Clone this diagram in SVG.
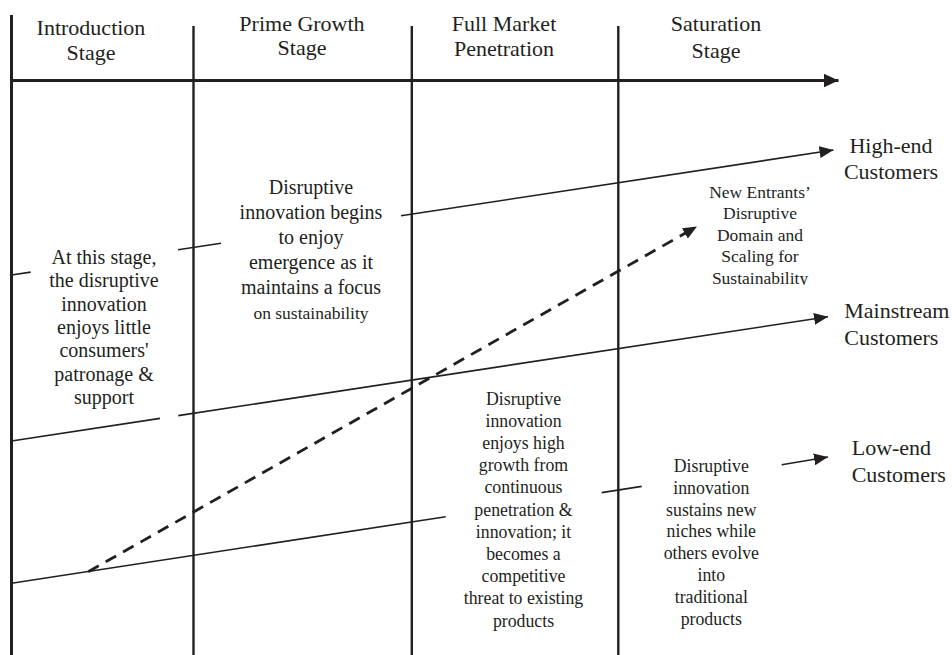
<svg xmlns="http://www.w3.org/2000/svg" width="952" height="655" viewBox="0 0 952 655">
  <defs>
    <style>
      .txt { font-family: "Liberation Serif", "Times New Roman", serif; fill: #231f20; text-anchor: middle; }
      .hdr { font-size: 22px; }
      .cust { font-size: 22px; }
      .b20 { font-size: 20px; }
      .b18 { font-size: 17.8px; }
      .b17 { font-size: 17.5px; }
      .axis { stroke: #231f20; stroke-width: 3; fill: none; }
      .stage { stroke: #231f20; stroke-width: 2.4; fill: none; }
      .trend { stroke: #231f20; stroke-width: 1.6; fill: none; }
      .dash { stroke: #231f20; stroke-width: 2.8; fill: none; stroke-dasharray: 12 8; }
    </style>
    <marker id="arrow" viewBox="0 0 14 12" refX="14" refY="6" markerWidth="14" markerHeight="12" markerUnits="userSpaceOnUse" orient="auto">
      <path d="M0,0 L14,6 L0,12 z" fill="#231f20"/>
    </marker>
    <marker id="arrowAxis" viewBox="0 0 15 14" refX="15" refY="7" markerWidth="15" markerHeight="14" markerUnits="userSpaceOnUse" orient="auto">
      <path d="M0,0 L15,7 L0,14 z" fill="#231f20"/>
    </marker>
    <clipPath id="clipEntrants">
      <rect x="690" y="170" width="140" height="115"/>
    </clipPath>
  </defs>

  <rect width="952" height="655" fill="#ffffff"/>

  <!-- stage frame: vertical dividers and time axis -->
  <g id="frame">
    <line class="axis" x1="11.5" y1="15" x2="11.5" y2="655"/>
    <line class="stage" x1="193.5" y1="26" x2="193.5" y2="655"/>
    <line class="stage" x1="411.8" y1="26" x2="411.8" y2="655"/>
    <line class="stage" x1="618.3" y1="26" x2="618.3" y2="655"/>
    <line class="axis" x1="11.5" y1="80.5" x2="838.5" y2="80.5" marker-end="url(#arrowAxis)"/>
  </g>

  <!-- stage headings -->
  <g id="stage-introduction">
    <text class="txt hdr" x="91" y="35.3">Introduction</text>
    <text class="txt hdr" x="91" y="60">Stage</text>
  </g>
  <g id="stage-prime-growth">
    <text class="txt hdr" x="302" y="30.6">Prime Growth</text>
    <text class="txt hdr" x="302" y="55.3">Stage</text>
  </g>
  <g id="stage-full-market">
    <text class="txt hdr" x="504" y="30.6">Full Market</text>
    <text class="txt hdr" x="504" y="56.3">Penetration</text>
  </g>
  <g id="stage-saturation">
    <text class="txt hdr" x="716" y="31.3">Saturation</text>
    <text class="txt hdr" x="716" y="58">Stage</text>
  </g>

  <!-- customer trend lines -->
  <g id="connectors">
    <!-- high-end -->
    <line class="trend" x1="11.5" y1="275" x2="30.7" y2="272.1"/>
    <line class="trend" x1="178" y1="249.8" x2="221" y2="243.2"/>
    <line class="trend" x1="401" y1="215.8" x2="833.5" y2="150" marker-end="url(#arrow)"/>
    <!-- mainstream -->
    <line class="trend" x1="11.5" y1="441" x2="160" y2="418.4"/>
    <line class="trend" x1="178.3" y1="415.6" x2="828" y2="316.7" marker-end="url(#arrow)"/>
    <!-- low-end -->
    <line class="trend" x1="11.5" y1="583.3" x2="445.7" y2="516.7"/>
    <line class="trend" x1="601.7" y1="492.6" x2="641.7" y2="486.4"/>
    <line class="trend" x1="781.7" y1="464.8" x2="828" y2="457" marker-end="url(#arrow)"/>
    <!-- new entrants -->
    <line class="dash" x1="88.3" y1="571.7" x2="697" y2="226.5" marker-end="url(#arrow)"/>
  </g>

  <!-- stage descriptions -->
  <g id="note-introduction">
    <text class="txt b20" x="104" y="264">At this stage,</text>
    <text class="txt b20" x="104" y="287.3">the disruptive</text>
    <text class="txt b20" x="104" y="310.6">innovation</text>
    <text class="txt b20" x="104" y="333.9">enjoys little</text>
    <text class="txt b20" x="104" y="357.2">consumers'</text>
    <text class="txt b20" x="104" y="380.5">patronage &amp;</text>
    <text class="txt b20" x="104" y="403.8">support</text>
  </g>
  <g id="note-prime-growth">
    <text class="txt b20" x="311" y="194">Disruptive</text>
    <text class="txt b20" x="311" y="219">innovation begins</text>
    <text class="txt b20" x="311" y="244">to enjoy</text>
    <text class="txt b20" x="311" y="269">emergence as it</text>
    <text class="txt b20" x="311" y="294">maintains a focus</text>
    <text class="txt b17" x="311" y="318.5">on sustainability</text>
  </g>
  <g id="note-full-market">
    <text class="txt b18" x="523.5" y="404.5">Disruptive</text>
    <text class="txt b18" x="523.5" y="426.7">innovation</text>
    <text class="txt b18" x="523.5" y="448.9">enjoys high</text>
    <text class="txt b18" x="523.5" y="471.1">growth from</text>
    <text class="txt b18" x="523.5" y="493.3">continuous</text>
    <text class="txt b18" x="523.5" y="515.5">penetration &amp;</text>
    <text class="txt b18" x="523.5" y="537.7">innovation; it</text>
    <text class="txt b18" x="523.5" y="559.9">becomes a</text>
    <text class="txt b18" x="523.5" y="582.1">competitive</text>
    <text class="txt b18" x="523.5" y="604.3">threat to existing</text>
    <text class="txt b18" x="523.5" y="626.5">products</text>
  </g>
  <g id="note-saturation">
    <text class="txt b18" x="711.3" y="471.7">Disruptive</text>
    <text class="txt b18" x="711.3" y="493.6">innovation</text>
    <text class="txt b18" x="711.3" y="515.5">sustains new</text>
    <text class="txt b18" x="711.3" y="537.4">niches while</text>
    <text class="txt b18" x="711.3" y="559.3">others evolve</text>
    <text class="txt b18" x="711.3" y="581.2">into</text>
    <text class="txt b18" x="711.3" y="603.1">traditional</text>
    <text class="txt b18" x="711.3" y="625">products</text>
  </g>
  <g id="note-new-entrants" clip-path="url(#clipEntrants)">
    <text class="txt b17" x="760" y="197.5">New Entrants’</text>
    <text class="txt b17" x="760" y="219">Disruptive</text>
    <text class="txt b17" x="760" y="240.5">Domain and</text>
    <text class="txt b17" x="760" y="262">Scaling for</text>
    <text class="txt b17" x="760" y="283.5">Sustainability</text>
  </g>

  <!-- customer segments -->
  <g id="segment-high-end">
    <text class="txt cust" x="891" y="153.3">High-end</text>
    <text class="txt cust" x="891" y="179.3">Customers</text>
  </g>
  <g id="segment-mainstream">
    <text class="txt cust" x="844.3" y="318" style="text-anchor:start">Mainstream</text>
    <text class="txt cust" x="844.3" y="345" style="text-anchor:start">Customers</text>
  </g>
  <g id="segment-low-end">
    <text class="txt cust" x="851.7" y="455" style="text-anchor:start">Low-end</text>
    <text class="txt cust" x="851.7" y="481.7" style="text-anchor:start">Customers</text>
  </g>
</svg>
